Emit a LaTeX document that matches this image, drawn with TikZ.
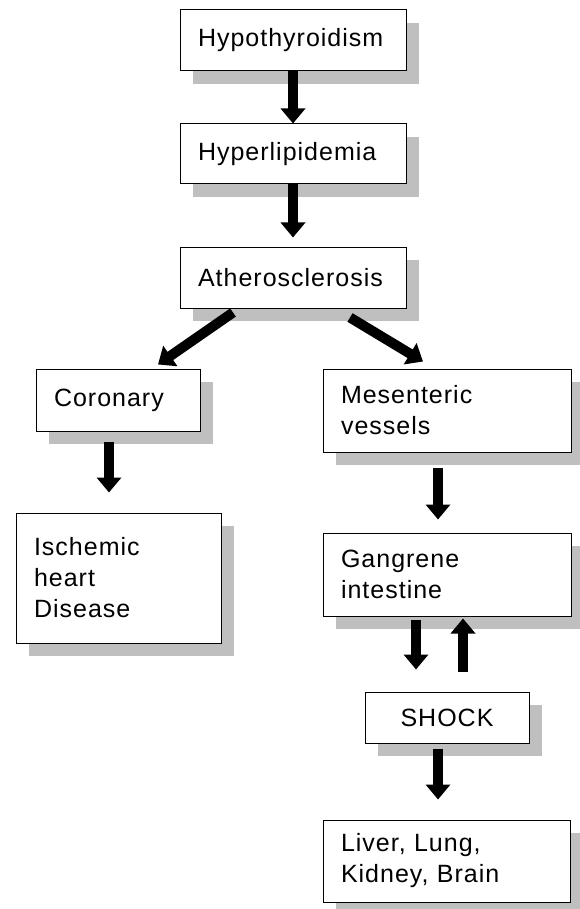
\documentclass[tikz,border=0pt]{standalone}
\usepackage{fontspec}
\setmainfont[LetterSpace=4]{Liberation Sans}
\usetikzlibrary{arrows.meta,shadows}

\tikzset{
  box/.style={draw, line width=1pt, fill=white,
    drop shadow={shadow xshift=13pt, shadow yshift=-13pt, opacity=1, fill=black!25},
    font=\fontsize{25}{31}\selectfont, inner xsep=18pt, inner ysep=0pt, align=left},
  fat/.style={line width=10pt, -{Triangle[length=15pt, width=24pt]}}
}

\begin{document}
\begin{tikzpicture}[x=1pt, y=-1pt]
    \useasboundingbox (0,0) rectangle (579,909);

    % left column and top chain
    \node[box, text width=190pt, minimum height=61pt] (hypo) at (293,40.5) {Hypothyroidism};
    \node[box, text width=190pt, minimum height=60pt] (hyper) at (293,154) {Hyperlipidemia};
    \node[box, text width=190pt, minimum height=61pt] (athero) at (293,277.5) {Atherosclerosis};
    \node[box, text width=128pt, minimum height=62pt] (coronary) at (118,400) {Coronary};
    \node[box, text width=169pt, minimum height=130pt] (ischemic) at (118.5,578) {Ischemic\\heart\\Disease};

    % right column
    \node[box, text width=212pt, minimum height=83pt] (mesent) at (447,410.5) {Mesenteric\\vessels};
    \node[box, text width=212pt, minimum height=83pt] (gangrene) at (447,574.5) {Gangrene\\intestine};
    \node[box, text width=128pt, minimum height=51pt, align=center] (shock) at (447,717.5) {SHOCK};
    \node[box, text width=211pt, minimum height=82pt] (liver) at (446.5,861) {Liver, Lung,\\Kidney, Brain};

    \draw[fat] (hypo.south) -- (hyper.north);
    \draw[fat] (hyper.south) -- ([yshift=9pt]athero.north);
    \draw[fat] ([xshift=-60pt,yshift=-4pt]athero.south) -- ([xshift=40pt,yshift=4pt]coronary.north);
    \draw[fat] ([xshift=57pt,yshift=-9pt]athero.south) -- ([xshift=-24pt,yshift=7pt]mesent.north);
    \draw[fat] ([xshift=-9pt,yshift=-10pt]coronary.south) -- ([xshift=-9.5pt,yshift=20pt]ischemic.north);
    \draw[fat] ([xshift=-9pt,yshift=-15pt]mesent.south) -- ([xshift=-9pt,yshift=13pt]gangrene.north);
    \draw[fat] ([xshift=-31pt,yshift=-3pt]gangrene.south) -- ([xshift=-31pt,yshift=22pt]shock.north);
    \draw[fat] ([xshift=16pt,yshift=20pt]shock.north) -- ([xshift=16pt,yshift=-2pt]gangrene.south);
    \draw[fat] ([xshift=-9pt,yshift=-5pt]shock.south) -- ([xshift=-8.5pt,yshift=20pt]liver.north);
\end{tikzpicture}
\end{document}
